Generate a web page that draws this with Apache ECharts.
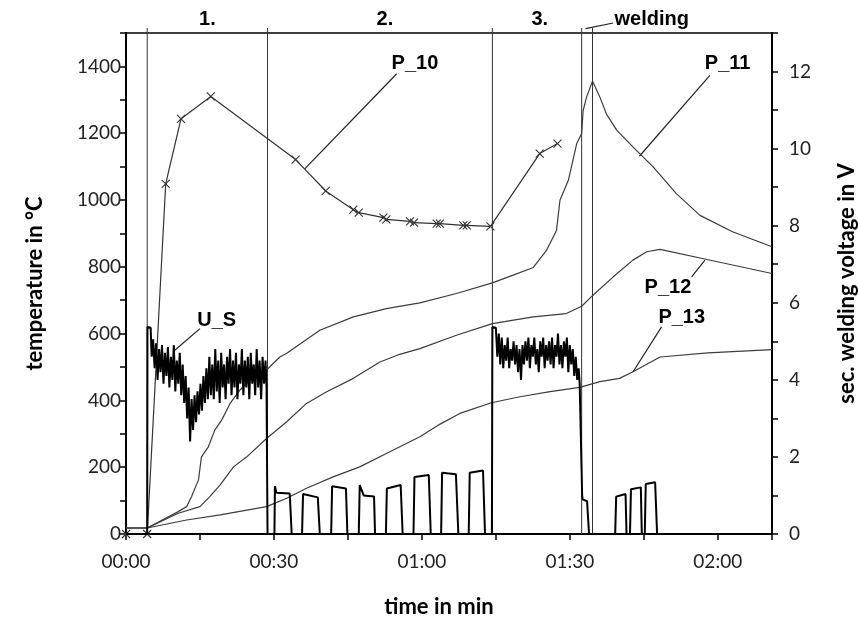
<!DOCTYPE html>
<html><head><meta charset="utf-8">
<script src="https://cdn.jsdelivr.net/npm/echarts@6/dist/echarts.min.js"></script>
<style>html,body{margin:0;padding:0;background:#fff}#c{width:858px;height:618px}</style>
</head><body><div id="c"></div>
<script>
// time in seconds, temperature in °C
const p10 = [[0,0],[4.3,0],[8.05,1048],[11.15,1243],[17.2,1310],[34.4,1121],[40.5,1027],[46.1,971],[47.2,962],[52.2,947],[52.8,942],[57.6,936],[58.4,932],[63.0,929],[63.65,929],[68.4,924],[69.1,924],[73.9,921],[83.9,1139],[87.5,1169]];
const p11 = [[0,18],[4.3,18],[10.6,67],[12.3,82],[13.3,112],[14.7,162],[15.3,231],[16.7,261],[18.0,311],[19.4,341],[21.1,391],[23.1,431],[25.8,471],[28.5,491],[31.2,530],[32.6,541],[39.3,610],[46.1,650],[52.8,675],[59.6,692],[67.0,720],[74.3,752],[78.5,775],[82.6,798],[85.3,850],[87.3,909],[88.0,999],[89.7,1059],[91.4,1169],[92.4,1199],[92.7,1268],[93.4,1308],[94.6,1356],[96.1,1308],[97.4,1258],[99.5,1209],[102.8,1159],[106.9,1099],[111.6,1019],[116.4,954],[123.0,905],[131,860]];
const p12 = [[0,18],[4.3,18],[10.6,62],[15.0,82],[17.0,112],[19.1,147],[21.8,201],[24.5,231],[28.5,286],[32.6,336],[36.6,391],[40.7,426],[46.1,466],[51.5,515],[55.5,538],[59.6,555],[67.0,595],[74.3,630],[82.6,650],[89.3,660],[92.4,682],[94.7,715],[98.8,770],[102.8,820],[105.6,845],[108.3,852],[119.0,818],[131,780]];
const p13 = [[0,18],[4.3,18],[12.3,42],[19.1,57],[28.5,82],[32.6,107],[36.6,137],[42.0,171],[47.4,201],[52.8,241],[59.6,291],[63.7,329],[67.7,361],[74.1,393],[79.9,411],[86.0,426],[92.0,439],[96.1,456],[100.1,466],[102.8,486],[108.3,530],[118.0,542],[131,552]];
// secondary welding voltage in V
const uS = [[0,0],[4.3,0],[4.35,5.37],[5.0,5.35],[5.2,4.6],[5.5,5.05],[5.8,4.3],[6.1,4.95],[6.4,4.0],[6.7,4.8],[7.0,4.2],[7.3,4.9],[7.6,3.9],[7.9,4.7],[8.2,4.1],[8.5,4.85],[8.8,3.8],[9.1,4.6],[9.4,4.0],[9.7,4.9],[10.0,3.7],[10.3,4.5],[10.6,3.9],[10.9,4.7],[11.2,3.6],[11.5,4.4],[11.8,3.4],[12.1,4.1],[12.4,3.0],[12.7,3.8],[13.0,2.4],[13.3,3.5],[13.6,2.7],[13.9,3.6],[14.2,2.9],[14.5,3.7],[14.8,3.1],[15.1,3.9],[15.4,3.2],[15.7,4.1],[16.0,3.4],[16.3,4.3],[16.6,3.5],[16.9,4.6],[17.2,3.6],[17.5,4.4],[17.8,3.5],[18.1,4.8],[18.4,3.7],[18.7,4.5],[19.0,3.4],[19.3,4.7],[19.6,3.8],[19.9,4.4],[20.2,3.5],[20.5,4.6],[20.8,3.9],[21.1,4.8],[21.4,3.6],[21.7,4.5],[22.0,3.8],[22.3,4.7],[22.6,3.5],[22.9,4.4],[23.2,3.9],[23.5,4.8],[23.8,3.6],[24.1,4.5],[24.4,3.8],[24.7,4.6],[25.0,3.5],[25.3,4.7],[25.6,3.9],[25.9,4.4],[26.2,3.6],[26.5,4.8],[26.8,3.8],[27.1,4.5],[27.4,3.5],[27.7,4.6],[28.0,3.9],[28.3,4.5],[28.5,3.8],[28.7,0],
 [30.1,0],[30.2,1.24],[30.5,1.07],[33.2,1.05],[33.6,0],[35.7,0],[35.9,1.04],[38.9,0.95],[39.3,0],[41.6,0],[41.8,1.24],[44.6,1.18],[44.9,0],[47.2,0],[47.4,1.27],[47.8,1.27],[48.2,1.0],[50.3,0.97],[50.5,0],[52.7,0],[52.9,1.18],[55.7,1.27],[56.1,0],[58.3,0],[58.5,1.48],[61.4,1.53],[61.8,0],[63.9,0],[64.1,1.59],[66.9,1.55],[67.4,0],[69.5,0],[69.7,1.59],[72.4,1.65],[72.8,0],[74.2,0],
 [74.3,5.37],[75.0,5.35],[75.3,4.6],[75.6,5.2],[75.9,4.4],[76.2,5.1],[76.5,4.3],[76.8,4.9],[77.1,4.5],[77.4,5.1],[77.7,4.3],[78.0,4.8],[78.3,4.5],[78.6,5.0],[78.9,4.4],[79.2,4.9],[79.5,4.2],[79.8,4.8],[80.1,4.0],[80.4,4.9],[80.7,4.4],[81.0,5.0],[81.3,4.5],[81.6,5.1],[81.9,4.3],[82.2,4.9],[82.5,4.6],[82.8,5.1],[83.1,4.4],[83.4,4.8],[83.7,4.2],[84.0,5.0],[84.3,4.6],[84.6,5.1],[84.9,4.3],[85.2,4.9],[85.5,4.5],[85.8,5.0],[86.1,4.4],[86.4,5.1],[86.7,4.3],[87.0,4.9],[87.3,4.6],[87.6,5.2],[87.9,4.4],[88.2,4.9],[88.5,4.3],[88.8,5.0],[89.1,4.6],[89.4,5.1],[89.7,4.2],[90.0,4.9],[90.3,4.4],[90.6,4.8],[90.9,4.1],[91.2,4.6],[91.5,4.0],[91.8,4.3],[92.0,3.9],[92.5,1.0],[92.6,0.9],[93.5,0.85],[93.7,0.8],[93.9,0],
 [99.2,0],[99.4,0.97],[101.3,1.04],[101.5,0],[102.2,0],[102.4,1.16],[104.4,1.21],[104.6,0],[105.2,0],[105.4,1.30],[107.3,1.34],[107.7,0],[131,0]];
// phase boundaries (s)
const phaseLines = [4.3, 28.7, 74.3, 92.4, 94.6];
const phaseNames = ['1.', '2.', '3.'];
const xTickLabels = ['00:00','00:30','01:00','01:30','02:00'];

const notes = [
  {text:'P_10', at:[58.6,1410], from:[54.9,1378], to:[36.3,1094]},
  {text:'P_11', at:[122.0,1410], from:[118.4,1373], to:[104.1,1131]},
  {text:'P_12', at:[109.9,737], from:[114.7,770], to:[117.4,820]},
  {text:'P_13', at:[112.7,649], from:[108.6,620], to:[102.8,485]},
  {text:'U_S', at:[18.4,640], from:[15.0,615], to:[9.9,550]},
  {text:'welding', at:[106.6,1541], from:[98.8,1530], to:[93.2,1513]},
  {text:phaseNames[0], at:[16.5,1540]},
  {text:phaseNames[1], at:[52.5,1540]},
  {text:phaseNames[2], at:[83.9,1540]}
];

const chart = echarts.init(document.getElementById('c'));
const tickFont = 'Lato';
const crossSym = 'path://M0,0L10,10M10,0L0,10';
const curveColor = '#3c3c3c';
const titleStyle = {fontFamily:tickFont,fontWeight:'bold',fontSize:22,color:'#000'};

chart.setOption({
  animation:false,
  backgroundColor:'#fff',
  grid:{left:126,right:86,top:33,bottom:84,show:true,borderColor:'#000',borderWidth:1.5,
    containLabel:false,outerBoundsMode:'none'},
  xAxis:{type:'value',min:0,max:131,interval:15,
    name:'time in min',nameLocation:'middle',nameGap:62,
    nameTextStyle:Object.assign({},titleStyle,{padding:[0,20,0,0]}),
    axisLine:{lineStyle:{color:'#000',width:2}},
    axisTick:{show:true,inside:false,length:6,lineStyle:{color:'#000',width:1.5}},
    axisLabel:{fontFamily:tickFont,fontSize:19,color:'#222',margin:18,
      formatter:v=>{ if(v%30!==0) return ''; return xTickLabels[v/30]||''; }},
    splitLine:{show:false}},
  yAxis:[
    {type:'value',min:0,max:1500,interval:100,
      name:'temperature in °C',nameLocation:'middle',nameGap:80,nameRotate:90,
      nameTextStyle:titleStyle,
      axisLine:{show:true,lineStyle:{color:'#000',width:2}},
      axisTick:{show:true,inside:false,length:6,lineStyle:{color:'#000',width:1.5}},
      axisLabel:{fontFamily:tickFont,fontSize:19,color:'#222',margin:5,
        formatter:v=> (v%200===0 ? String(v) : '')},
      splitLine:{show:false}},
    {type:'value',min:0,max:13,interval:1,position:'right',
      name:'sec. welding voltage in V',nameLocation:'middle',nameGap:64,nameRotate:90,
      nameTextStyle:titleStyle,
      axisLine:{show:true,lineStyle:{color:'#000',width:2}},
      axisTick:{show:true,inside:false,length:6,lineStyle:{color:'#000',width:1.5}},
      axisLabel:{fontFamily:tickFont,fontSize:19,color:'#222',margin:17,
        formatter:v=> (v%2===0 && v<=12 ? String(v) : '')},
      splitLine:{show:false}}
  ],
  series:[
    {type:'custom',name:'phases',xAxisIndex:0,yAxisIndex:0,silent:true,z:1,
      data:phaseLines.map(x=>[x,0]),
      renderItem:(params,api)=>{
        const x = api.value(0);
        const top = api.coord([x,1500]);
        const bot = api.coord([x,0]);
        return {type:'line',shape:{x1:top[0],y1:top[1]-5,x2:bot[0],y2:bot[1]},
          style:{stroke:'#333',lineWidth:1}};
      }},
    {type:'line',name:'P_11',data:p11,showSymbol:false,lineStyle:{color:curveColor,width:1.2},itemStyle:{color:curveColor},z:3},
    {type:'line',name:'P_12',data:p12,showSymbol:false,lineStyle:{color:curveColor,width:1.2},itemStyle:{color:curveColor},z:3},
    {type:'line',name:'P_13',data:p13,showSymbol:false,lineStyle:{color:curveColor,width:1.2},itemStyle:{color:curveColor},z:3},
    {type:'line',name:'P_10',data:p10,symbol:crossSym,symbolSize:8,showAllSymbol:true,
      lineStyle:{color:'#333',width:1.2},
      itemStyle:{color:'rgba(0,0,0,0)',borderColor:'#333',borderWidth:1.1},z:4},
    {type:'line',name:'U_S',yAxisIndex:1,data:uS,showSymbol:false,
      lineStyle:{color:'#000',width:2},itemStyle:{color:'#000'},z:5},
    {type:'custom',name:'notes',xAxisIndex:0,yAxisIndex:0,silent:true,z:6,
      data:notes.map(n=>[n.at[0],n.at[1]]),
      renderItem:(params,api)=>{
        const n = notes[params.dataIndex];
        const children = [];
        if(n.from){
          const a = api.coord(n.from), b = api.coord(n.to);
          children.push({type:'line',shape:{x1:a[0],y1:a[1],x2:b[0],y2:b[1]},style:{stroke:'#222',lineWidth:1.2}});
        }
        const p = api.coord(n.at);
        children.push({type:'text',x:p[0],y:p[1],style:{text:n.text,fill:'#000',
          font:'bold 20px "Liberation Sans", Arial, sans-serif',align:'center',verticalAlign:'middle'}});
        return {type:'group',children};
      }}
  ]
});
</script></body></html>
